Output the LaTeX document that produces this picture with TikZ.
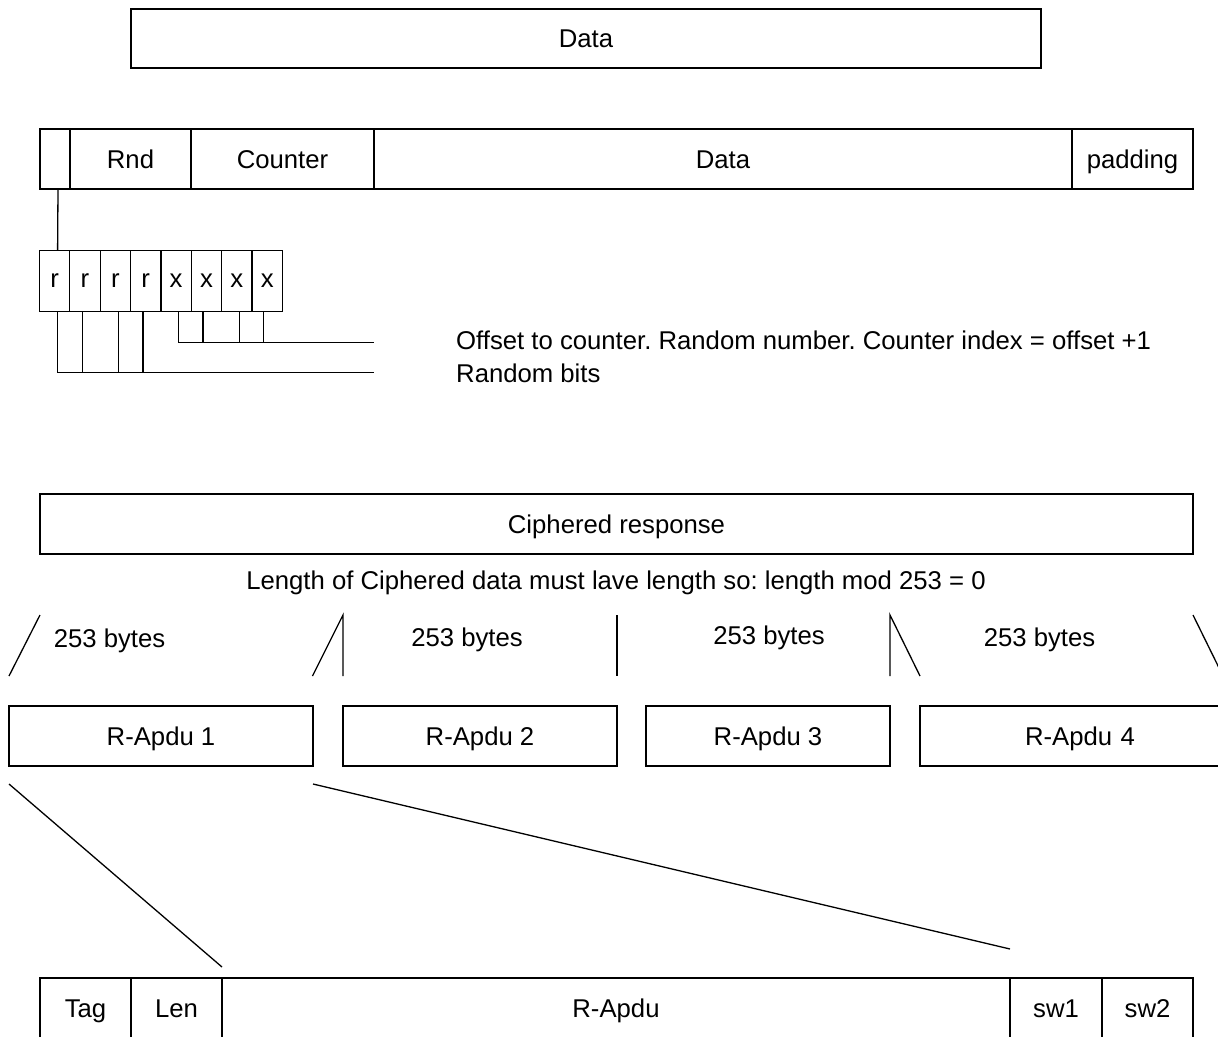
\documentclass[tikz,border=0pt]{standalone}
\usepackage{fontspec}
\setmainfont{Liberation Sans}
\frenchspacing
\begin{document}
\begin{tikzpicture}[x=1pt,y=-1pt,
  box/.style={draw, line width=1.3pt, inner sep=0pt, outer sep=0pt, anchor=north west,
    text height=18.4pt, text depth=0pt,
    font=\fontsize{25.7}{30}\selectfont},
  lbl/.style={inner sep=0pt, font=\fontsize{25.7}{30}\selectfont},
  ln/.style={line width=1.3pt}]
\useasboundingbox (0,0) rectangle (1218,1036);
\clip (0,0) rectangle (1218,1036);
% top data
\node[box, minimum width=910pt, minimum height=59pt] (data0) at (131,9) {Data};
% second row
\node[box, minimum width=30pt, minimum height=60pt] (blank) at (40,129) {};
\node[box, minimum width=121pt, minimum height=60pt] (rnd) at (70,129) {Rnd};
\node[box, minimum width=183pt, minimum height=60pt] (counter) at (191,129) {Counter};
\node[box, minimum width=698pt, minimum height=60pt] (data1) at (374,129) {Data};
\node[box, minimum width=121pt, minimum height=60pt] (padding) at (1072,129) {padding};
% bits
\foreach \i/\t in {1/r,2/r,3/r,4/r,5/x,6/x,7/x,8/x}{
  \node[box, minimum width=30.4pt, minimum height=61pt, text height=13.5pt] (b\i) at ({39.4+(\i-1)*30.375},250.6) {\t};
}
\draw[ln] ([xshift=3pt]blank.south) -- ([xshift=3pt]b1.north);
% random bit lines
\coordinate (rend) at (374,372.3);
\coordinate (xend) at (374,342.3);
\draw[ln] ([xshift=3pt]b1.south) -- ([xshift=3pt]b1.south |- rend) -- (rend);
\draw[ln] ([xshift=-2.8pt]b2.south) -- ([xshift=-2.8pt]b2.south |- rend);
\draw[ln] ([xshift=3.2pt]b3.south) -- ([xshift=3.2pt]b3.south |- rend);
\draw[ln] ([xshift=-2.6pt]b4.south) -- ([xshift=-2.6pt]b4.south |- rend);
\draw[ln] ([xshift=2.4pt]b5.south) -- ([xshift=2.4pt]b5.south |- xend) -- (xend);
\draw[ln] ([xshift=-3.6pt]b6.south) -- ([xshift=-3.6pt]b6.south |- xend);
\draw[ln] ([xshift=2.6pt]b7.south) -- ([xshift=2.6pt]b7.south |- xend);
\draw[ln] ([xshift=-3.4pt]b8.south) -- ([xshift=-3.4pt]b8.south |- xend);
\node[lbl, anchor=base west] (offtxt) at (456,349) {Offset to counter. Random number. Counter index = offset +1};
\node[lbl, anchor=base west] (rndtxt) at (456,382) {Random bits};
% ciphered
\node[box, minimum width=1153pt, minimum height=60pt] (ciph) at (40,494) {Ciphered response};
\node[lbl, anchor=base] (lentxt) at (616,589) {Length of Ciphered data must lave length so: length mod 253 = 0};
% split markers
\draw[ln] (9,676) -- (40,615);
\draw[ln] (312.5,676) -- (343,615) -- (343,676);
\draw[ln] (617,615) -- (617,676);
\draw[ln] (890,676) -- (890,615) -- (920,676);
\draw[ln] (1193,615) -- (1223,676);
\node[lbl, anchor=base] (by1) at (109.5,647) {253 bytes};
\node[lbl, anchor=base] (by2) at (467,646) {253 bytes};
\node[lbl, anchor=base] (by3) at (769,644) {253 bytes};
\node[lbl, anchor=base] (by4) at (1039.5,646) {253 bytes};
% R-Apdu boxes
\node[box, minimum width=304pt, minimum height=60pt] (ra1) at (9,706) {R-Apdu 1};
\node[box, minimum width=274pt, minimum height=60pt] (ra2) at (343,706) {R-Apdu 2};
\node[box, minimum width=244pt, minimum height=60pt] (ra3) at (646,706) {R-Apdu 3};
\node[box, minimum width=320pt, minimum height=60pt, text width=298pt, align=center] (ra4) at (920,706) {R-Apdu 4};
% bottom row
\node[box, minimum width=91pt, minimum height=60pt] (tag) at (40,978) {Tag};
\node[box, minimum width=91pt, minimum height=60pt] (len) at (131,978) {Len};
\node[box, minimum width=788pt, minimum height=60pt] (rapdu) at (222,978) {R-Apdu};
\node[box, minimum width=92pt, minimum height=60pt] (sw1) at (1010,978) {sw1};
\node[box, minimum width=91pt, minimum height=60pt] (sw2) at (1102,978) {sw2};
% zoom lines
\draw[ln] ([yshift=-18pt]ra1.south west) -- ([yshift=11pt]rapdu.north west);
\draw[ln] ([yshift=-18pt]ra1.south east) -- ([yshift=29pt]sw1.north west);
\end{tikzpicture}
\end{document}
